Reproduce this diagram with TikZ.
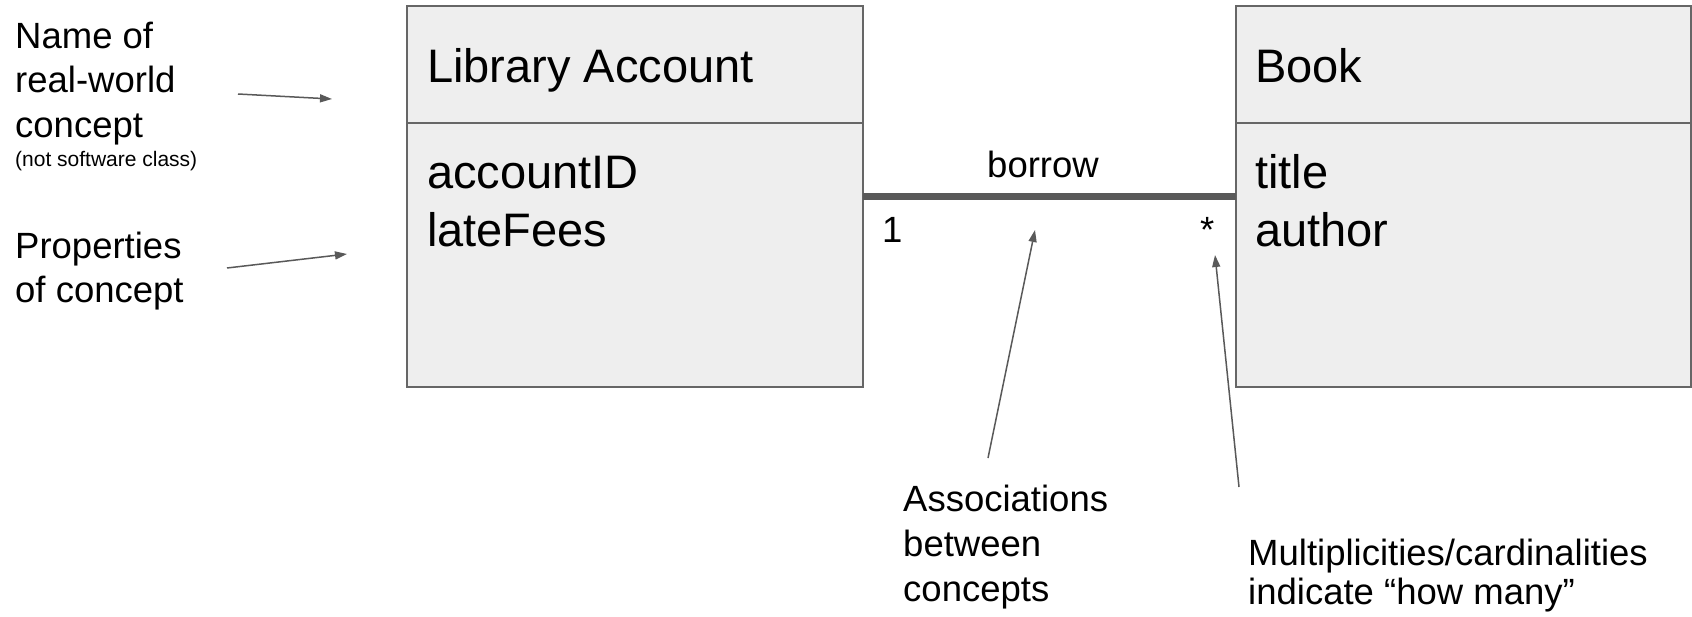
\documentclass[tikz,border=0pt]{standalone}
\usepackage{fontspec}
\setmainfont{Liberation Sans}
\usetikzlibrary{arrows.meta}
\definecolor{boxfill}{HTML}{EEEEEE}
\definecolor{boxline}{HTML}{666666}
\definecolor{arr}{HTML}{595959}
\tikzset{
  cls/.style={draw=boxline, line width=2pt, fill=boxfill, minimum width=456pt, minimum height=381pt, inner sep=0pt, outer sep=0pt, anchor=north west},
  divider/.style={draw=boxline, line width=2pt},
  big/.style={font=\fontsize{47}{56}\selectfont, anchor=base west, inner sep=0pt},
  mid/.style={font=\fontsize{36.5}{44}\selectfont, anchor=base west, inner sep=0pt},
  small/.style={font=\fontsize{21}{25}\selectfont, anchor=base west, inner sep=0pt},
  pointer/.style={draw=arr, line width=1.5pt, -{Triangle[length=12pt,width=8pt]}},
  assoc/.style={draw=arr, line width=7pt},
}
\begin{document}
\begin{tikzpicture}[x=1pt,y=-1pt]
\useasboundingbox (0,0) rectangle (1692,616);
% classes
\node[cls] (acct) at (407,6) {};
\node[cls, minimum width=455pt] (book) at (1236,6) {};
\draw[divider] (407,123) -- (863,123);
\draw[divider] (1236,123) -- (1691,123);
\node[big] (acctname) at (427,82) {Library Account};
\node[big] (acctid) at (427,188) {accountID};
\node[big] (fees) at (427,246) {lateFees};
\node[big] (bookname) at (1255,82) {Book};
\node[big] (title) at (1255,188) {title};
\node[big] (author) at (1255,246) {author};
% association
\draw[assoc] (acct.east) -- (book.west);
\node[mid, anchor=base] (borrow) at (1043,177) {borrow};
\node[mid] (one) at (882,242) {1};
\node[mid] (many) at (1200,242) {*};
% left labels
\node[mid] (l1) at (15,48) {Name of};
\node[mid] (l2) at (15,92) {real-world};
\node[mid] (l3) at (15,137) {concept};
\node[small] (l4) at (15,166) {(not software class)};
\node[mid] (p1) at (15,258) {Properties};
\node[mid] (p2) at (15,302) {of concept};
% bottom labels
\node[mid] (a1) at (903,511) {Associations};
\node[mid] (a2) at (903,556) {between};
\node[mid] (a3) at (903,601) {concepts};
\node[mid] (m1) at (1248,565) {Multiplicities/cardinalities};
\node[mid] (m2) at (1248,604) {indicate “how many”};
% pointer arrows
\coordinate (n0) at (238,94);
\coordinate (n1) at (332,99);
\coordinate (q0) at (227,268);
\coordinate (q1) at (347,254);
\coordinate (s0) at (988,458);
\coordinate (s1) at (1035,230);
\coordinate (t0) at (1239,487);
\coordinate (t1) at (1215,255);
\draw[pointer] (n0) -- (n1);
\draw[pointer] (q0) -- (q1);
\draw[pointer] (s0) -- (s1);
\draw[pointer] (t0) -- (t1);
\end{tikzpicture}
\end{document}
